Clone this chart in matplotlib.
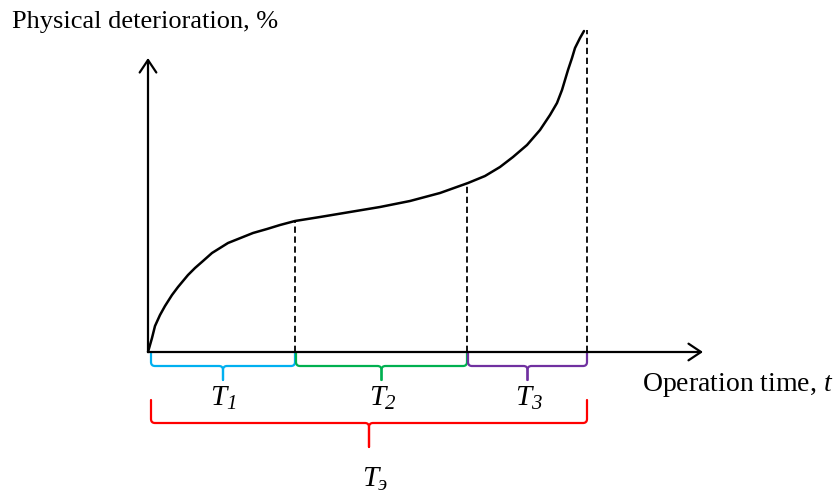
import matplotlib
matplotlib.use("Agg")
from matplotlib import pyplot as plt
from matplotlib.path import Path
from matplotlib.patches import PathPatch

plt.rcParams['font.family'] = ['Liberation Serif', 'DejaVu Serif']
plt.rcParams['mathtext.fontset'] = 'custom'
plt.rcParams['mathtext.rm'] = 'Liberation Serif'
plt.rcParams['mathtext.it'] = 'Liberation Serif:italic'

# wear curve (operation time vs physical deterioration)
time = [0, 4, 7, 12, 17, 24, 30, 40, 47, 55, 64, 72, 80, 90, 105, 119, 132, 147,
        172, 202, 232, 262, 292, 320, 337, 352, 365, 379, 392, 402, 409, 414,
        417, 420, 424, 427, 432, 436]
wear = [0, 14, 26, 37, 46, 57, 65, 77, 84, 91, 99, 104, 109, 113, 119, 123, 127, 131,
        135, 140, 145, 151, 159, 169, 176, 185, 195, 207, 222, 237, 249, 262,
        272, 282, 294, 304, 314, 321]

# stage boundaries and wear level at each one
stage_ends = [147, 319, 439]
stage_wear = [131, 169, 322]
stage_subs = ['1', '2', '3']
stage_colors = ['#00B0F0', '#00B050', '#7030A0']
total_sub = 'э'


def brace(ax, x0, x1, y_top, y_mid, y_tip, color, r=4):
    xc = (x0 + x1) / 2
    M, L, C = Path.MOVETO, Path.LINETO, Path.CURVE3
    for a, s in ((x0, 1), (x1, -1)):
        verts = [(a, y_top), (a, y_mid + r), (a, y_mid), (a + s * r, y_mid),
                 (xc - s * r, y_mid), (xc, y_mid), (xc, y_mid - r), (xc, y_tip)]
        codes = [M, L, C, C, L, C, C, L]
        ax.add_patch(PathPatch(Path(verts, codes), fill=False, ec=color,
                               lw=1.6, capstyle='round', joinstyle='round'))


def t_label(ax, x, y, sub):
    ax.text(x, y, 'T', fontsize=21, style='italic', ha='right', va='baseline')
    ax.text(x, y - 4, sub, fontsize=15, style='italic', ha='left', va='baseline')


fig = plt.figure(figsize=(8.4, 4.95), dpi=100)
ax = fig.add_axes([0, 0, 1, 1])
ax.set_xlim(-148, 692)
ax.set_ylim(-143, 352)
ax.axis('off')

# axes with arrows
arrow = dict(arrowstyle='->,head_length=0.6,head_width=0.4', lw=1.6,
             color='black', mutation_scale=15, shrinkA=0, shrinkB=0)
ax.annotate('', xy=(0, 294), xytext=(0, 0), arrowprops=arrow)
ax.annotate('', xy=(555, 0), xytext=(0, 0), arrowprops=arrow)

ax.plot(time, wear, color='black', lw=1.8, solid_capstyle='round',
        solid_joinstyle='round')

for t, w in zip(stage_ends, stage_wear):
    ax.plot([t, t], [0, w], color='black', lw=1.3, ls=(0, (3.5, 2)))

starts = [2] + stage_ends[:-1]
for x0, x1, sub, col in zip(starts, stage_ends, stage_subs, stage_colors):
    brace(ax, x0 + 1, x1, 0, -14, -28, col)
    t_label(ax, (x0 + x1) / 2 + 4, -53, sub)

brace(ax, 3, stage_ends[-1], -48, -71, -95, '#FF0000')
t_label(ax, 230, -134, total_sub)

ax.text(-136, 330, 'Physical deterioration, %', fontsize=19, ha='left', va='center')
ax.text(685, -33, 'Operation time, $t$', fontsize=20, ha='right', va='center')

fig.savefig('out.png', dpi=100)
